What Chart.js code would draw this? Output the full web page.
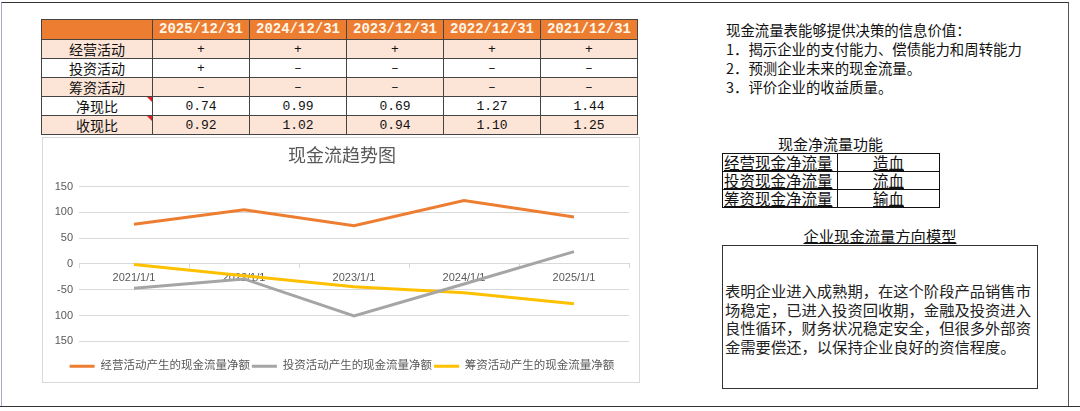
<!DOCTYPE html>
<html>
<head>
<meta charset="utf-8">
<script src="https://cdn.jsdelivr.net/npm/chart.js@4"></script>
<style>
  body { margin: 0; width: 1080px; height: 411px; background: #fff; position: relative; overflow: hidden;
         font-family: 'Noto Sans CJK SC', sans-serif; color: #111; }
  .frame { position: absolute; left: 1px; top: 2px; width: 1068px; height: 405px; box-sizing: border-box;
           border-top: 1px solid #333; border-right: 1px solid #555; border-left: 1px solid #a8a8c8; }
  .bottomline { position: absolute; left: 0; top: 406px; width: 1080px; height: 1px; background: #333; }

  #grid { position: absolute; left: 41px; top: 19px; border-collapse: collapse; table-layout: fixed; }
  #grid td { border: 1px solid #444; padding: 0; text-align: center; height: 18px; line-height: 17px;
             font-size: 14px; white-space: nowrap; position: relative; }
  #grid tr.head td { background: #ed7d31; color: #fff6e8; font-family: 'Liberation Mono', monospace;
                     font-weight: bold; font-size: 14px; height: 19px; }
  #grid td.num { font-family: 'Liberation Mono', monospace; font-size: 13px; }
  #grid tr.peach td { background: #fce4d6; }
  .flag { position: absolute; right: 0; top: 0; width: 0; height: 0;
          border-top: 5px solid #e02020; border-left: 5px solid transparent; }

  .notes { position: absolute; left: 726px; top: 20px; font-size: 14.4px; line-height: 19px; }

  .ftitle { position: absolute; left: 722px; width: 217px; top: 135px; text-align: center; font-size: 15px; line-height: 18px; }
  #func { position: absolute; left: 722px; top: 153px; border-collapse: collapse; table-layout: fixed; }
  #func td { border: 1px solid #111; padding: 0 1px; height: 17px; line-height: 17px; font-size: 15.5px;
             text-decoration: underline; white-space: nowrap; }
  #func td.c { text-align: center; }

  .mtitle { position: absolute; left: 722px; width: 316px; top: 226px; text-align: center; font-size: 15.3px;
            line-height: 18px; text-decoration: underline; }
  .mbox { position: absolute; left: 722px; top: 245px; width: 316px; height: 144px; box-sizing: border-box;
          border: 1px solid #333; }
  .mtext { position: absolute; left: 2px; top: 35px; font-size: 15.3px; line-height: 18.5px; white-space: nowrap; color: #222; }

  .chartbox { position: absolute; left: 42px; top: 137px; width: 598px; height: 246px; box-sizing: border-box;
              border: 1px solid #d9d9d9; background: #fff; }
  .chartbox .inner { position: relative; width: 596px; height: 244px; }
</style>
</head>
<body>
<div class="frame"></div>
<div class="bottomline"></div>

<table id="grid"></table>

<div class="notes" id="notes"></div>

<div class="ftitle">现金净流量功能</div>
<table id="func"></table>

<div class="mtitle">企业现金流量方向模型</div>
<div class="mbox"><div class="mtext" id="mtext"></div></div>

<div class="chartbox"><div class="inner"><canvas id="myChart"></canvas></div></div>

<script>
// Table data
let reportDates = ['2025/12/31', '2024/12/31', '2023/12/31', '2022/12/31', '2021/12/31'];
let rowNames = ['经营活动', '投资活动', '筹资活动', '净现比', '收现比'];
let operatingSign = ['+', '+', '+', '+', '+'];
let investingSign = ['+', '–', '–', '–', '–'];
let financingSign = ['–', '–', '–', '–', '–'];
let netCashRatio = ['0.74', '0.99', '0.69', '1.27', '1.44'];
let revenueCashRatio = ['0.92', '1.02', '0.94', '1.10', '1.25'];

// Chart data
let categories = ['2021/1/1', '2022/1/1', '2023/1/1', '2024/1/1', '2025/1/1'];
let operatingFlow = [77, 105, 74, 123, 91];
let investingFlow = [-47, -29, -101, -39, 24];
let financingFlow = [-1, -23, -44, -56, -77];

// Side texts
let notesLines = ['现金流量表能够提供决策的信息价值：', '1．揭示企业的支付能力、偿债能力和周转能力', '2．预测企业未来的现金流量。', '3．评价企业的收益质量。'];
let funcNames = ['经营现金净流量', '投资现金净流量', '筹资现金净流量'];
let funcRoles = ['造血', '流血', '输血'];
let modelLines = ['表明企业进入成熟期，在这个阶段产品销售市', '场稳定，已进入投资回收期，金融及投资进入', '良性循环，财务状况稳定安全，但很多外部资', '金需要偿还，以保持企业良好的资信程度。'];

// Build the top table
let grid = document.getElementById('grid');
let colWidths = [111, 97, 97, 97, 97, 97];
let cg = document.createElement('colgroup');
colWidths.forEach(w => { let c = document.createElement('col'); c.style.width = w + 'px'; cg.appendChild(c); });
grid.appendChild(cg);

let head = grid.insertRow();
head.className = 'head';
head.insertCell().textContent = '';
reportDates.forEach(d => { head.insertCell().textContent = d; });

let bodyRows = [operatingSign, investingSign, financingSign, netCashRatio, revenueCashRatio];
bodyRows.forEach((vals, i) => {
    let tr = grid.insertRow();
    if (i % 2 === 0) tr.className = 'peach';
    let nameCell = tr.insertCell();
    nameCell.textContent = rowNames[i];
    // comment marker on the ratio rows
    if (i >= 3) {
        let f = document.createElement('span');
        f.className = 'flag';
        nameCell.appendChild(f);
    }
    vals.forEach(v => {
        let td = tr.insertCell();
        td.className = 'num';
        td.textContent = v;
    });
});

document.getElementById('notes').innerHTML = notesLines.join('<br>');

let func = document.getElementById('func');
let fcg = document.createElement('colgroup');
[115, 102].forEach(w => { let c = document.createElement('col'); c.style.width = w + 'px'; fcg.appendChild(c); });
func.appendChild(fcg);
funcNames.forEach((n, i) => {
    let tr = func.insertRow();
    tr.insertCell().textContent = n;
    let r = tr.insertCell();
    r.className = 'c';
    r.textContent = funcRoles[i];
});

document.getElementById('mtext').innerHTML = modelLines.join('<br>');

// Chart
const FONT = "'Liberation Sans', 'Noto Sans CJK SC', sans-serif";
let canvas = document.getElementById('myChart').getContext('2d');

new Chart(canvas, {
    type: 'line',
    data: {
        labels: categories,
        datasets: [
            { label: '经营活动产生的现金流量净额', data: operatingFlow, borderColor: '#ed7d31', backgroundColor: '#ed7d31',
              borderWidth: 3, pointRadius: 0, tension: 0 },
            { label: '投资活动产生的现金流量净额', data: investingFlow, borderColor: '#a5a5a5', backgroundColor: '#a5a5a5',
              borderWidth: 3, pointRadius: 0, tension: 0 },
            { label: '筹资活动产生的现金流量净额', data: financingFlow, borderColor: '#ffc000', backgroundColor: '#ffc000',
              borderWidth: 3, pointRadius: 0, tension: 0 }
        ]
    },
    options: {
        responsive: true,
        maintainAspectRatio: false,
        animation: false,
        layout: { padding: { left: 12, right: 10, top: 0, bottom: 0 } },
        plugins: {
            title: {
                display: true,
                text: '现金流趋势图',
                color: '#595959',
                font: { size: 18, family: FONT, weight: 'normal' },
                padding: { top: 8, bottom: 19 }
            },
            legend: {
                position: 'bottom',
                // empty title only pushes the legend row down a little
                title: { display: true, text: ' ', font: { size: 1 }, padding: { top: 16, bottom: 0 } },
                labels: {
                    usePointStyle: true,
                    pointStyle: 'line',
                    pointStyleWidth: 25,
                    boxHeight: 11,
                    padding: 2,
                    color: '#595959',
                    font: { size: 11.5, family: FONT }
                }
            },
            tooltip: { enabled: false }
        },
        scales: {
            x: {
                position: { y: 0 },
                offset: true,
                grid: { drawOnChartArea: false, drawTicks: true, tickLength: 4, color: '#d9d9d9', offset: true },
                border: { display: true, color: '#d9d9d9' },
                ticks: { color: '#595959', font: { size: 11, family: FONT }, padding: 3, maxRotation: 0, autoSkip: false }
            },
            y: {
                min: -150,
                max: 150,
                ticks: { stepSize: 50, autoSkip: false, color: '#595959', font: { size: 11, family: FONT }, padding: 6 },
                grid: { color: '#d9d9d9', drawTicks: false },
                border: { display: false },
                afterFit: function(scale) { scale.width = 24; }
            }
        }
    }
});
</script>
</body>
</html>
